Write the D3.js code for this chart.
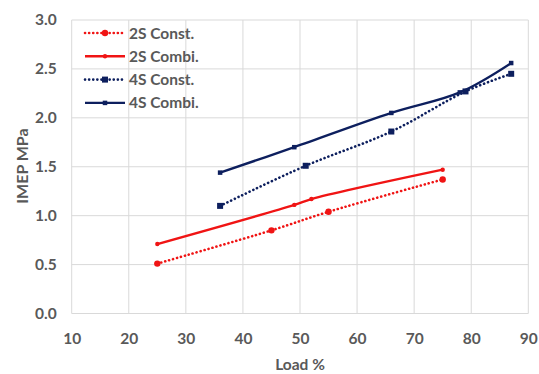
<!DOCTYPE html>
<html><head><meta charset="utf-8">
<script src="https://cdn.jsdelivr.net/npm/d3@7"></script>
<style>body{margin:0;background:#fff}</style>
</head><body>
<svg id="c" width="539" height="374"></svg>
<script>
const xTicks = [10,20,30,40,50,60,70,80,90];
const yTicks = [0.0,0.5,1.0,1.5,2.0,2.5,3.0];
const s2ConstX = [25,45,55,75];
const s2ConstY = [0.51,0.85,1.04,1.37];
const s2CombiX = [25,49,52,75];
const s2CombiY = [0.71,1.11,1.17,1.47];
const s4ConstX = [36,51,66,79,87];
const s4ConstY = [1.10,1.51,1.86,2.27,2.45];
const s4CombiX = [36,49,66,78,87];
const s4CombiY = [1.44,1.70,2.05,2.26,2.56];
const seriesNames = ["2S Const.","2S Combi.","4S Const.","4S Combi."];

const red = "#f01414", navy = "#0d1f5e";
const series = [
  {name:seriesNames[0], xs:s2ConstX, ys:s2ConstY, color:red, dash:true, marker:"circle", ms:3.2},
  {name:seriesNames[1], xs:s2CombiX, ys:s2CombiY, color:red, dash:false, marker:"circle", ms:2.2},
  {name:seriesNames[2], xs:s4ConstX, ys:s4ConstY, color:navy, dash:true, marker:"square", ms:6},
  {name:seriesNames[3], xs:s4CombiX, ys:s4CombiY, color:navy, dash:false, marker:"square", ms:4.5}
];

const svg = d3.select("#c");
const x = d3.scaleLinear().domain([10,90]).range([71.7,528.3]);
const y = d3.scaleLinear().domain([0,3]).range([313.5,20]);
const font = "Lato, 'Open Sans', sans-serif";
const txt = "#595959";
const fs = "15.5px";

// gridlines
svg.append("g").selectAll("line").data(xTicks).join("line")
  .attr("x1",d=>x(d)).attr("x2",d=>x(d)).attr("y1",y(0)).attr("y2",y(3))
  .attr("stroke","#d9d9d9").attr("stroke-width",1);
svg.append("g").selectAll("line").data(yTicks).join("line")
  .attr("x1",x(10)).attr("x2",x(90)).attr("y1",d=>y(d)).attr("y2",d=>y(d))
  .attr("stroke","#d9d9d9").attr("stroke-width",1);

// axes
const xa = svg.append("g").attr("transform",`translate(0,${y(0)})`)
  .call(d3.axisBottom(x).tickValues(xTicks).tickSize(0).tickPadding(19).tickFormat(d3.format("d")));
const ya = svg.append("g").attr("transform",`translate(${x(10)},0)`)
  .call(d3.axisLeft(y).tickValues(yTicks).tickSize(0).tickPadding(15).tickFormat(d3.format(".1f")));
[xa,ya].forEach(a=>{
  a.select(".domain").remove();
  a.selectAll("text").attr("fill",txt).style("font-family",font).style("font-size",fs).style("font-weight","bold");
});

svg.append("text").attr("x",300).attr("y",370).attr("text-anchor","middle")
  .attr("fill",txt).style("font-family",font).style("font-size",fs).style("font-weight","bold").text("Load %");
svg.append("text").attr("transform",`translate(28,166) rotate(-90)`).attr("text-anchor","middle")
  .attr("fill",txt).style("font-family",font).style("font-size","16px").style("font-weight","bold").text("IMEP MPa");

const line = d3.line().x(d=>x(d[0])).y(d=>y(d[1])).curve(d3.curveCatmullRom.alpha(0.5));

function marker(g, cx, cy, s){
  if(s.marker==="circle") g.append("circle").attr("cx",cx).attr("cy",cy).attr("r",s.ms).attr("fill",s.color);
  else g.append("rect").attr("x",cx-s.ms/2).attr("y",cy-s.ms/2).attr("width",s.ms).attr("height",s.ms).attr("fill",s.color);
}

series.forEach(s=>{
  const pts = s.xs.map((v,i)=>[v,s.ys[i]]);
  const g = svg.append("g");
  g.append("path").attr("d",line(pts)).attr("fill","none").attr("stroke",s.color)
    .attr("stroke-width",s.dash?2.6:2.4).attr("stroke-linecap",s.dash?"round":"butt")
    .attr("stroke-dasharray",s.dash?"0.1,4":null);
  pts.forEach(p=>marker(g,x(p[0]),y(p[1]),s));
});

// legend
const lg = svg.append("g");
series.forEach((s,i)=>{
  const ly = 33 + i*23.3;
  const g = lg.append("g");
  g.append("line").attr("x1",85).attr("x2",125).attr("y1",ly).attr("y2",ly).attr("stroke",s.color)
    .attr("stroke-width",s.dash?2.6:2.4).attr("stroke-linecap",s.dash?"round":"butt")
    .attr("stroke-dasharray",s.dash?"0.1,4":null);
  marker(g,105,ly,s);
  g.append("text").attr("x",129).attr("y",ly+5.5).attr("fill",txt)
    .style("font-family",font).style("font-size",fs).style("font-weight","bold").text(s.name);
});
</script>
</body></html>
